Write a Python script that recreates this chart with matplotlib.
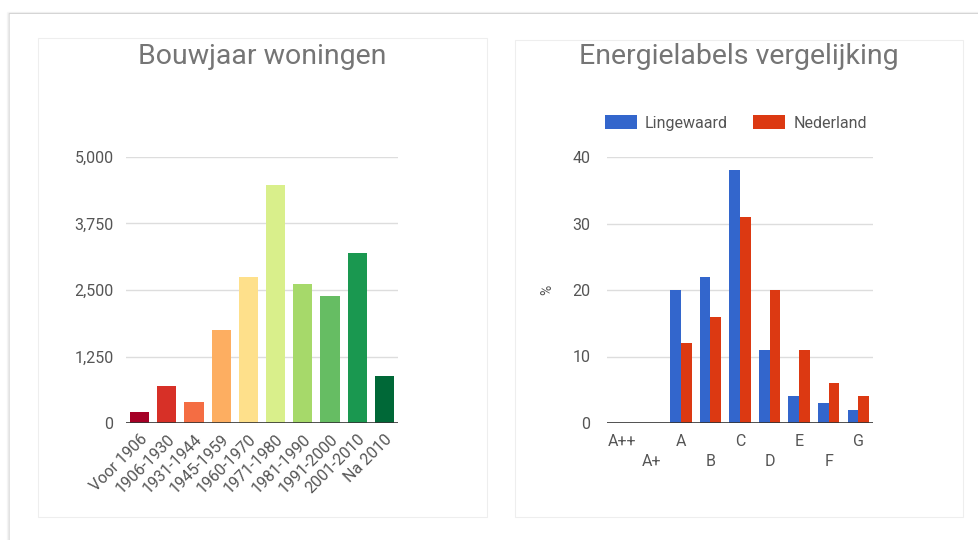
import matplotlib
matplotlib.use("Agg")
import matplotlib.pyplot as plt
from matplotlib.patches import Rectangle
import numpy as np

plt.rcParams['font.family'] = ['Roboto', 'DejaVu Sans']

# ---- data ----
bouw_categories = ["Voor 1906", "1906-1930", "1931-1944", "1945-1959", "1960-1970",
                   "1971-1980", "1981-1990", "1991-2000", "2001-2010", "Na 2010"]
bouw_values = [210, 700, 400, 1750, 2750, 4470, 2620, 2380, 3190, 890]
bouw_colors = ["#a50026", "#d73027", "#f46d43", "#fdae61", "#fee08b",
               "#d9ef8b", "#a6d96a", "#66bd63", "#1a9850", "#006837"]
bouw_yticks = [0, 1250, 2500, 3750, 5000]
bouw_ytick_labels = ["0", "1,250", "2,500", "3,750", "5,000"]

label_categories = ["A++", "A+", "A", "B", "C", "D", "E", "F", "G"]
series_names = ["Lingewaard", "Nederland"]
lingewaard = [0, 0, 20, 22, 38, 11, 4, 3, 2]
nederland = [0, 0, 12, 16, 31, 20, 11, 6, 4]
series_colors = ["#3366cc", "#dc3912"]
label_yticks = [0, 10, 20, 30, 40]

W, H = 979, 540
fig = plt.figure(figsize=(W / 100, H / 100), dpi=100)
fig.patch.set_facecolor("white")


def rect_px(x0, y0, x1, y1):
    """pixel box (top-left origin) -> figure fraction [l, b, w, h]"""
    return [x0 / W, 1 - y1 / H, (x1 - x0) / W, (y1 - y0) / H]


def add_card(x0, y0, x1, y1):
    # soft shadow
    for i, a in enumerate([0.05, 0.04, 0.03, 0.02]):
        d = i + 1
        l, b, w, h = rect_px(x0 - d * 0.5, y0 - d * 0.3, x1 + d, y1 + d * 1.2)
        fig.add_artist(Rectangle((l, b), w, h, transform=fig.transFigure,
                                 facecolor="black", alpha=a, edgecolor="none", zorder=0))
    l, b, w, h = rect_px(x0, y0, x1, y1)
    fig.add_artist(Rectangle((l, b), w, h, transform=fig.transFigure,
                             facecolor="white", edgecolor="#eeeeee", linewidth=0.8, zorder=0.5))


# outer frame
for i, a in enumerate([0.10, 0.06, 0.03]):
    l, b, w, h = rect_px(9 - i, 13 - i * 0.5, W + 20, H + 20)
    fig.add_artist(Rectangle((l, b), w, h, transform=fig.transFigure,
                             facecolor="none", edgecolor="black", alpha=a, linewidth=1.0, zorder=0))
l, b, w, h = rect_px(10, 14, W + 20, H + 20)
fig.add_artist(Rectangle((l, b), w, h, transform=fig.transFigure,
                         facecolor="white", edgecolor="none", zorder=0.1))

add_card(38, 38, 487, 517)
add_card(515, 40, 963, 517)

text_color = "#555555"
title_color = "#757575"
grid_color = "#dddddd"
axis_color = "#333333"
tick_fs = 11.5

# ---- left chart ----
ax1 = fig.add_axes(rect_px(126, 157, 398, 423))
ax1.set_zorder(2)
x1 = np.arange(len(bouw_categories))
ax1.bar(x1, bouw_values, width=0.7, color=bouw_colors, zorder=3)
ax1.set_xlim(-0.5, len(bouw_categories) - 0.5)
ax1.set_ylim(0, 5000)
ax1.set_yticks(bouw_yticks)
ax1.set_yticklabels(bouw_ytick_labels)
ax1.set_xticks(x1)
ax1.set_xticklabels(bouw_categories, rotation=45, ha="right", va="top",
                    rotation_mode="anchor")
for y in bouw_yticks[1:]:
    ax1.axhline(y, color=grid_color, linewidth=1, zorder=1)
ax1.axhline(0, color=axis_color, linewidth=1.2, zorder=4)
ax1.tick_params(axis="y", length=0, pad=9, labelsize=tick_fs, labelcolor=text_color)
ax1.tick_params(axis="x", length=0, pad=6, labelsize=tick_fs, labelcolor=text_color)
for s in ax1.spines.values():
    s.set_visible(False)
ax1.patch.set_alpha(0)
fig.text(262 / W, 1 - 57 / H, "Bouwjaar woningen", ha="center", va="center",
         fontsize=20.5, color=title_color, zorder=3)

# ---- right chart ----
ax2 = fig.add_axes(rect_px(607, 157, 873, 423))
ax2.set_zorder(2)
x2 = np.arange(len(label_categories))
bw = 0.36
ax2.bar(x2 - bw / 2, lingewaard, width=bw, color=series_colors[0], label=series_names[0], zorder=3)
ax2.bar(x2 + bw / 2, nederland, width=bw, color=series_colors[1], label=series_names[1], zorder=3)
ax2.set_xlim(-0.5, len(label_categories) - 0.5)
ax2.set_ylim(0, 40)
ax2.set_yticks(label_yticks)
ax2.set_yticklabels([str(v) for v in label_yticks])
major_idx = x2[::2]
minor_idx = x2[1::2]
ax2.set_xticks(major_idx)
ax2.set_xticklabels([label_categories[i] for i in major_idx])
ax2.set_xticks(minor_idx, minor=True)
ax2.set_xticklabels([label_categories[i] for i in minor_idx], minor=True)
for y in label_yticks[1:]:
    ax2.axhline(y, color=grid_color, linewidth=1, zorder=1)
ax2.axhline(0, color=axis_color, linewidth=1.2, zorder=4)
ax2.tick_params(axis="y", length=0, pad=12, labelsize=tick_fs, labelcolor=text_color)
ax2.tick_params(axis="x", which="major", length=0, pad=8, labelsize=tick_fs, labelcolor=text_color)
ax2.tick_params(axis="x", which="minor", length=0, pad=22, labelsize=tick_fs, labelcolor=text_color)
for s in ax2.spines.values():
    s.set_visible(False)
ax2.patch.set_alpha(0)
ax2.set_ylabel("%", rotation=90, fontsize=10, color=text_color, labelpad=13)
ax2.legend(loc="center left", bbox_to_anchor=(605 / W, 1 - 123 / H),
           bbox_transform=fig.transFigure, ncol=2, frameon=False,
           borderpad=0, borderaxespad=0, handlelength=2.0, handleheight=0.95,
           handletextpad=0.5, columnspacing=1.6, fontsize=11.5, labelcolor=text_color)
fig.text(739 / W, 1 - 57 / H, "Energielabels vergelijking", ha="center", va="center",
         fontsize=20.5, color=title_color, zorder=3)

fig.savefig("out.png", dpi=100, facecolor="white")
